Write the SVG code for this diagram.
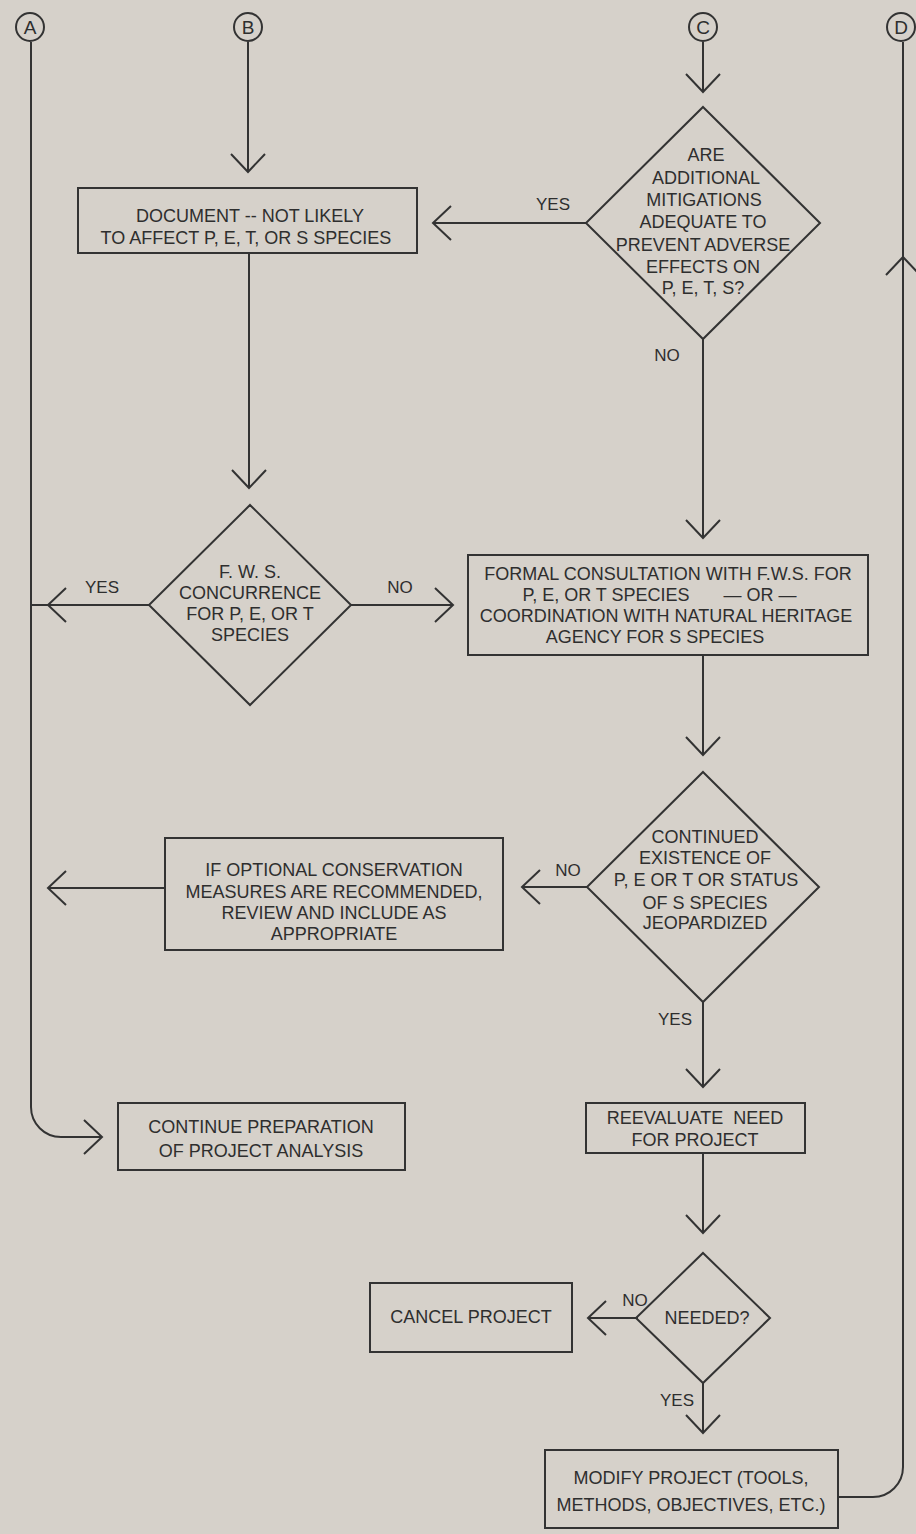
<svg xmlns="http://www.w3.org/2000/svg" width="916" height="1534" viewBox="0 0 916 1534">
<style>
.bg{fill:#d6d1ca}
.ln{fill:none;stroke:#333;stroke-width:2}
.box{fill:none;stroke:#333;stroke-width:2}
.t{font-family:"Liberation Sans",Arial,sans-serif;font-size:18px;fill:#2e2e2e;text-anchor:middle}
.lb{font-family:"Liberation Sans",Arial,sans-serif;font-size:17px;fill:#2e2e2e;text-anchor:middle}
.cl{font-family:"Liberation Sans",Arial,sans-serif;font-size:19px;fill:#2e2e2e;text-anchor:middle}
</style>
<defs>
<marker id="chev" markerUnits="userSpaceOnUse" markerWidth="44" markerHeight="44" viewBox="-22 -22 44 44" refX="0" refY="0" orient="auto">
<path d="M-18,-17 L0,0 L-18,17" fill="none" stroke="#333" stroke-width="2"/>
</marker>
</defs>
<rect class="bg" x="0" y="0" width="916" height="1534"/>

<g id="connectors">
<path class="ln" d="M31,42 V1107 A30,30 0 0 0 61,1137 H102" marker-end="url(#chev)"/>
<path class="ln" d="M248,42 V172" marker-end="url(#chev)"/>
<path class="ln" d="M703,42 V92" marker-end="url(#chev)"/>
<path class="ln" d="M838,1497 H873 A30,30 0 0 0 903,1467 V257" marker-end="url(#chev)"/>
<path class="ln" d="M903,257 V42"/>
<path class="ln" d="M586,223 H433" marker-end="url(#chev)"/>
<path class="ln" d="M703,339 V538" marker-end="url(#chev)"/>
<path class="ln" d="M249,253 V488" marker-end="url(#chev)"/>
<path class="ln" d="M149,605 H48" marker-end="url(#chev)"/>
<path class="ln" d="M48,605 H31"/>
<path class="ln" d="M351,605 H453" marker-end="url(#chev)"/>
<path class="ln" d="M703,655 V755" marker-end="url(#chev)"/>
<path class="ln" d="M587,887 H522" marker-end="url(#chev)"/>
<path class="ln" d="M165,888 H48" marker-end="url(#chev)"/>
<path class="ln" d="M703,1002 V1087" marker-end="url(#chev)"/>
<path class="ln" d="M703,1153 V1233" marker-end="url(#chev)"/>
<path class="ln" d="M638,1318 H588" marker-end="url(#chev)"/>
<path class="ln" d="M703,1383 V1433" marker-end="url(#chev)"/>
<text class="lb" x="553" y="210">YES</text>
<text class="lb" x="667" y="361">NO</text>
<text class="lb" x="102" y="593">YES</text>
<text class="lb" x="400" y="593">NO</text>
<text class="lb" x="568" y="876">NO</text>
<text class="lb" x="675" y="1025">YES</text>
<text class="lb" x="635" y="1306">NO</text>
<text class="lb" x="677" y="1406">YES</text>
</g>

<g id="connA"><circle class="box" cx="30" cy="27" r="14"/><text class="cl" x="30" y="34">A</text></g>
<g id="connB"><circle class="box" cx="248" cy="27" r="14"/><text class="cl" x="248" y="34">B</text></g>
<g id="connC"><circle class="box" cx="703" cy="27" r="14"/><text class="cl" x="703" y="34">C</text></g>
<g id="connD"><circle class="box" cx="901" cy="27" r="14"/><text class="cl" x="901" y="34">D</text></g>

<g id="document">
<rect class="box" x="78" y="188" width="339" height="65"/>
<text class="t" x="250" y="222">DOCUMENT -- NOT LIKELY</text>
<text class="t" x="246" y="244">TO AFFECT P, E, T, OR S SPECIES</text>
</g>

<g id="mitigations">
<polygon class="box" points="703,107 820,223 703,339 586,223"/>
<text class="t" x="706" y="161">ARE</text>
<text class="t" x="706" y="184">ADDITIONAL</text>
<text class="t" x="704" y="206">MITIGATIONS</text>
<text class="t" x="703" y="228">ADEQUATE TO</text>
<text class="t" x="703" y="251">PREVENT ADVERSE</text>
<text class="t" x="703" y="273">EFFECTS ON</text>
<text class="t" x="703" y="294">P, E, T, S?</text>
</g>

<g id="fws">
<polygon class="box" points="250,505 351,605 250,705 149,605"/>
<text class="t" x="250" y="578">F. W. S.</text>
<text class="t" x="250" y="599">CONCURRENCE</text>
<text class="t" x="250" y="620">FOR P, E, OR T</text>
<text class="t" x="250" y="641">SPECIES</text>
</g>

<g id="formal">
<rect class="box" x="468" y="555" width="400" height="100"/>
<text class="t" x="668" y="580">FORMAL CONSULTATION WITH F.W.S. FOR</text>
<text class="t" x="606" y="601">P, E, OR T SPECIES</text>
<text class="t" x="760" y="601">— OR —</text>
<text class="t" x="666" y="622">COORDINATION WITH NATURAL HERITAGE</text>
<text class="t" x="655" y="643">AGENCY FOR S SPECIES</text>
</g>

<g id="jeopardized">
<polygon class="box" points="703,772 819,887 703,1002 587,887"/>
<text class="t" x="705" y="843">CONTINUED</text>
<text class="t" x="705" y="864">EXISTENCE OF</text>
<text class="t" x="706" y="886">P, E OR T OR STATUS</text>
<text class="t" x="705" y="909">OF S SPECIES</text>
<text class="t" x="705" y="929">JEOPARDIZED</text>
</g>

<g id="optional">
<rect class="box" x="165" y="838" width="338" height="112"/>
<text class="t" x="334" y="876">IF OPTIONAL CONSERVATION</text>
<text class="t" x="334" y="898">MEASURES ARE RECOMMENDED,</text>
<text class="t" x="334" y="919">REVIEW AND INCLUDE AS</text>
<text class="t" x="334" y="940">APPROPRIATE</text>
</g>

<g id="continue">
<rect class="box" x="118" y="1103" width="287" height="67"/>
<text class="t" x="261" y="1133">CONTINUE PREPARATION</text>
<text class="t" x="261" y="1157">OF PROJECT ANALYSIS</text>
</g>

<g id="reevaluate">
<rect class="box" x="586" y="1103" width="219" height="50"/>
<text class="t" x="695" y="1124" xml:space="preserve">REEVALUATE  NEED</text>
<text class="t" x="695" y="1146">FOR PROJECT</text>
</g>

<g id="needed">
<polygon class="box" points="703,1253 770,1318 703,1383 636,1318"/>
<text class="t" x="707" y="1324">NEEDED?</text>
</g>

<g id="cancel">
<rect class="box" x="370" y="1283" width="202" height="69"/>
<text class="t" x="471" y="1323">CANCEL PROJECT</text>
</g>

<g id="modify">
<rect class="box" x="545" y="1450" width="293" height="78"/>
<text class="t" x="691" y="1484">MODIFY PROJECT (TOOLS,</text>
<text class="t" x="691" y="1511">METHODS, OBJECTIVES, ETC.)</text>
</g>
</svg>
